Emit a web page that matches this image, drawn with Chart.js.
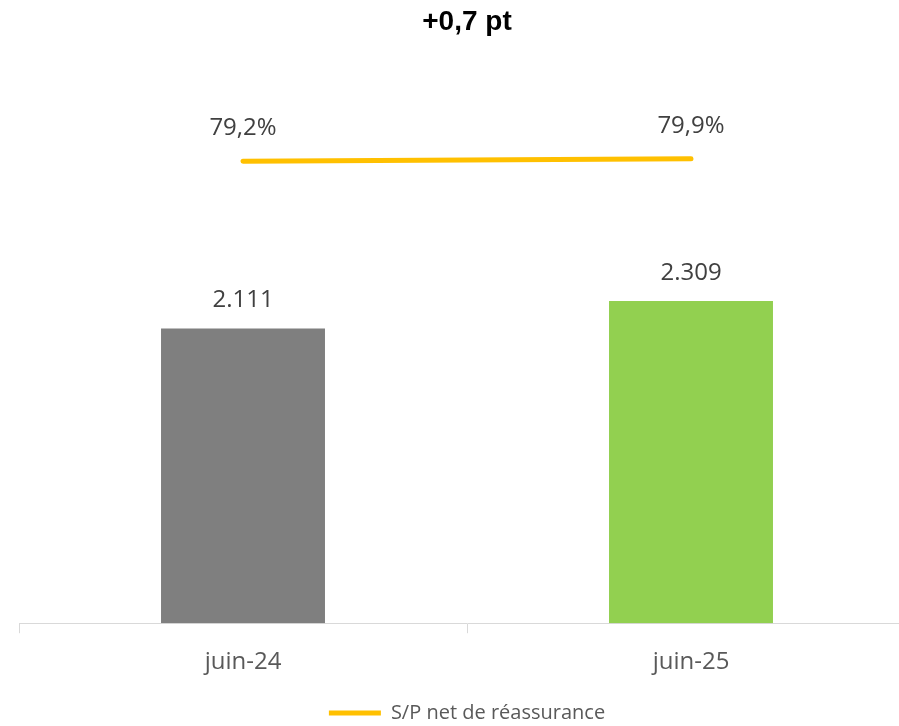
<!DOCTYPE html>
<html lang="fr">
<head>
<meta charset="utf-8">
<title>S/P net de réassurance</title>
<script src="https://cdn.jsdelivr.net/npm/chart.js@4.4.1/dist/chart.umd.min.js"></script>
<style>
    html, body { margin: 0; padding: 0; background: #fff; overflow: hidden; }
    #graphique { display: block; }
</style>
</head>
<body>
<canvas id="graphique" width="934" height="733"></canvas>
<script>
// données
const categories = ['juin-24', 'juin-25'];
const montants = [2111, 2309];
const ratioSP = [79.2, 79.9];
const titre = '+0,7 pt';
const libelleLigne = 'S/P net de réassurance';

const couleursBarres = ['#7F7F7F', '#92D050'];
const couleurLigne = '#FFC000';

const fmtMontant = (v) => {
    return String(v).replace(/\B(?=(\d{3})+(?!\d))/g, '.');
};
const fmtRatio = (v) => v.toFixed(1).replace('.', ',') + '%';

// étiquettes de valeurs au-dessus des barres et des points
const etiquettes = {
    id: 'etiquettes',
    afterDatasetsDraw(chart) {
        const ctx = chart.ctx;
        ctx.save();
        ctx.font = '24px "Open Sans"';
        ctx.fillStyle = '#404040';
        ctx.textAlign = 'center';
        ctx.textBaseline = 'middle';
        chart.getDatasetMeta(0).data.forEach((barre, i) => {
            ctx.fillText(fmtMontant(montants[i]), barre.x, barre.y - 28);
        });
        chart.getDatasetMeta(1).data.forEach((pt, i) => {
            ctx.fillText(fmtRatio(ratioSP[i]), pt.x, pt.y - 33);
        });
        ctx.restore();
    }
};

const ctx = document.getElementById('graphique').getContext('2d');

new Chart(ctx, {
    data: {
        labels: categories,
        datasets: [{
            type: 'bar',
            label: 'Montant',
            data: montants,
            backgroundColor: couleursBarres,
            categoryPercentage: 1,
            barPercentage: 0.366,
            yAxisID: 'y',
            order: 2
        },
        {
            type: 'line',
            label: libelleLigne,
            data: ratioSP,
            borderColor: couleurLigne,
            backgroundColor: couleurLigne,
            borderWidth: 5,
            borderCapStyle: 'round',
            pointRadius: 0,
            yAxisID: 'y1',
            order: 1
        }]
    },
    options: {
        responsive: false,
        animation: false,
        layout: {
            padding: { left: 19, right: 19, top: 0, bottom: 0 }
        },
        scales: {
            x: {
                grid: {
                    display: true,
                    offset: true,
                    drawOnChartArea: false,
                    drawTicks: true,
                    tickLength: 10,
                    color: '#D9D9D9'
                },
                border: { display: true, color: '#D9D9D9', width: 1 },
                ticks: {
                    color: '#595959',
                    padding: 15,
                    font: { family: 'Open Sans', size: 24 }
                }
            },
            y: {
                display: false,
                min: 0,
                max: 4035
            },
            y1: {
                display: false,
                position: 'right',
                min: -50,
                max: 107.5
            }
        },
        plugins: {
            title: {
                display: true,
                text: titre,
                color: '#000000',
                font: { family: 'Liberation Sans', size: 28, weight: 'bold' },
                padding: { top: 5, bottom: 21.4 }
            },
            legend: {
                position: 'bottom',
                labels: {
                    usePointStyle: true,
                    pointStyle: 'line',
                    pointStyleWidth: 52,
                    color: '#595959',
                    padding: 11,
                    font: { family: 'Open Sans', size: 20 },
                    filter: (item) => item.datasetIndex === 1
                }
            },
            tooltip: { enabled: false }
        }
    },
    plugins: [etiquettes]
});
</script>
</body>
</html>
